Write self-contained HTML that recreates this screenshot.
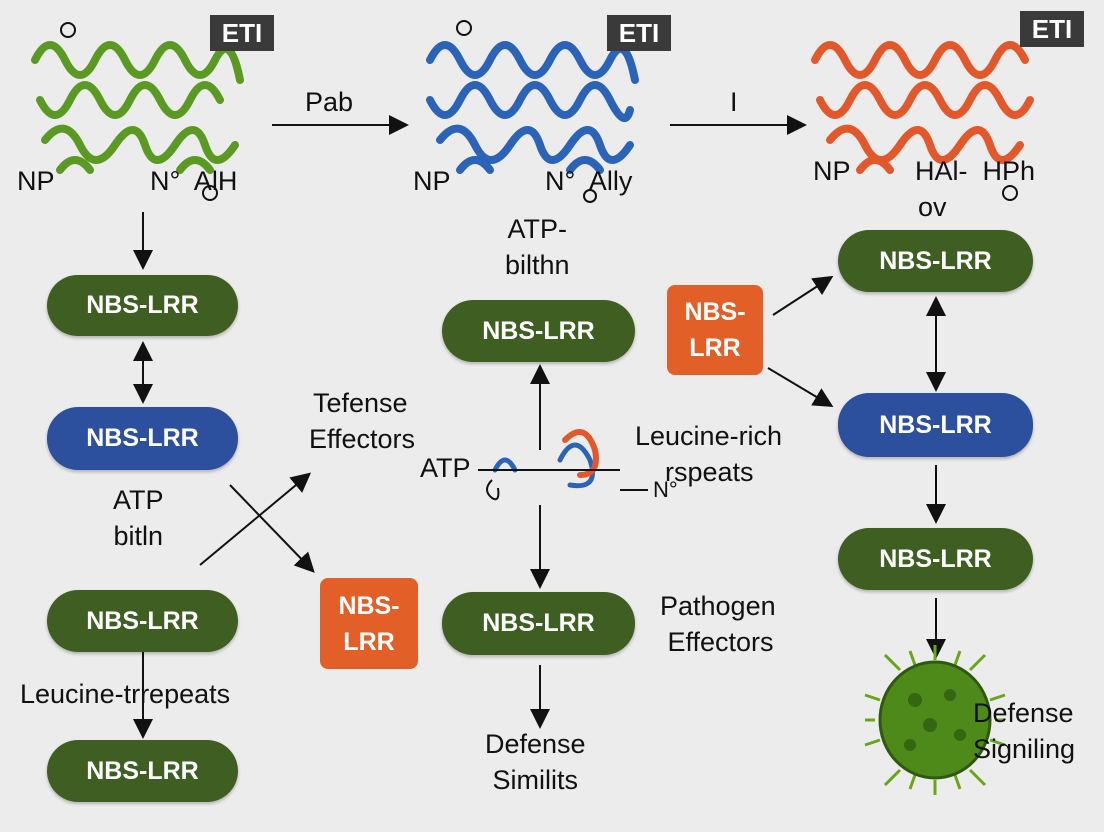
<!DOCTYPE html>
<html><head><meta charset="utf-8"><style>
html,body{margin:0;padding:0}
body{width:1104px;height:832px;background:#ececec;position:relative;overflow:hidden;font-family:"Liberation Sans",sans-serif}
.p{position:absolute;border-radius:31px;color:#fff;font-weight:bold;font-size:25px;display:flex;align-items:center;justify-content:center;box-shadow:0 2px 3px rgba(0,0,0,.25)}
.g{background:#3f5f22}.b{background:#2c4f9e}
.o{position:absolute;background:#e25f28;color:#fff;font-weight:bold;font-size:25px;border-radius:8px;display:flex;align-items:center;justify-content:center;text-align:center;line-height:36px}
.t{position:absolute;font-size:27px;color:#111;line-height:36px;white-space:nowrap}
.e{position:absolute;background:#3a3a3a;color:#fff;font-weight:bold;font-size:26px;width:64px;height:36px;display:flex;align-items:center;justify-content:center}
svg{position:absolute;left:0;top:0}
</style></head><body>
<svg width="1104" height="832">
<defs><marker id="a" markerWidth="10" markerHeight="10" refX="8" refY="5" orient="auto"><path d="M0,0 L10,5 L0,10 z" fill="#111"/></marker>
<marker id="s" markerWidth="10" markerHeight="10" refX="2" refY="5" orient="auto"><path d="M10,0 L0,5 L10,10 z" fill="#111"/></marker></defs>
<g fill="none" stroke-linecap="round" stroke-width="8">
<path d="M35,60 q15,-30 30,0 t30,0 t30,0 t30,0 t30,0 t30,0 t25,20 M40,100 q15,30 30,0 t30,0 t30,0 t30,0 t30,0 t30,0 M45,140 q20,-25 35,5 t35,0 t30,0 t30,0 t30,0 t30,0 M60,170 q15,-20 30,0 M180,170 q15,-20 30,0" stroke="#5a9a22"/>
<path d="M430,60 q15,-30 30,0 t30,0 t30,0 t30,0 t30,0 t30,0 t25,20 M430,100 q15,30 30,0 t30,0 t30,0 t30,0 t30,0 t30,0 t20,10 M440,140 q20,-25 35,5 t35,0 t30,0 t30,0 t30,0 t30,0 M460,170 q15,-20 30,0 M570,170 q15,-20 30,0" stroke="#2a63b8"/>
<path d="M815,60 q15,-30 30,0 t30,0 t30,0 t30,0 t30,0 t30,0 t30,0 M820,100 q15,30 30,0 t30,0 t30,0 t30,0 t30,0 t30,0 t30,0 M830,140 q20,-25 35,5 t35,0 t30,0 t30,0 t30,0 t30,0 M860,170 q15,-20 30,0" stroke="#e2582a"/>
<path d="M495,470 q10,-20 20,0 M560,460 q15,-30 30,0 q10,30 -20,25" stroke="#2a63b8" stroke-width="5"/>
<path d="M565,440 q20,-20 30,10 q5,25 -15,25" stroke="#e2582a" stroke-width="6"/>
</g>
<g fill="none" stroke="#111" stroke-width="2">
<circle cx="68" cy="30" r="7"/><circle cx="464" cy="28" r="7"/><circle cx="590" cy="196" r="6"/><circle cx="210" cy="193" r="7"/><circle cx="1010" cy="193" r="7"/>
<path d="M272,125 H405" marker-end="url(#a)"/>
<path d="M670,125 H803" marker-end="url(#a)"/>
<path d="M143,212 V266" marker-end="url(#a)"/>
<path d="M143,345 V400" marker-end="url(#a)" marker-start="url(#s)"/>
<path d="M143,652 V735" marker-end="url(#a)"/>
<path d="M200,565 L308,475" marker-end="url(#a)"/>
<path d="M230,485 L312,570" marker-end="url(#a)"/>
<path d="M540,450 V368" marker-end="url(#a)"/>
<path d="M540,505 V585" marker-end="url(#a)"/>
<path d="M540,665 V725" marker-end="url(#a)"/>
<path d="M478,470 H620 M620,490 h28 M492,480 q-10,10 0,18 q8,5 6,-10"/>
<path d="M773,315 L830,278" marker-end="url(#a)"/>
<path d="M768,368 L830,405" marker-end="url(#a)"/>
<path d="M936,300 V388" marker-end="url(#a)" marker-start="url(#s)"/>
<path d="M936,465 V520" marker-end="url(#a)"/>
<path d="M936,598 V655" marker-end="url(#a)"/>
</g>
<g stroke="#6aa61c" stroke-width="3" fill="none">
<path d="M935,720 m-60,0 h-10 M935,720 m60,0 h10 M900,670 l-15,-15 M970,670 l15,-15 M900,770 l-15,15 M970,770 l15,15 M935,660 v-15 M935,780 v15 M880,700 l-15,-5 M990,740 l15,5 M880,740 l-15,5 M990,700 l15,-5 M915,665 l-5,-14 M955,665 l5,-14 M915,775 l-5,14 M955,775 l5,14"/>
</g>
<ellipse cx="935" cy="720" rx="55" ry="58" fill="#4e8a1a" stroke="#2f5a0e" stroke-width="3"/>
<g fill="#356612"><circle cx="915" cy="700" r="7"/><circle cx="950" cy="695" r="6"/><circle cx="930" cy="725" r="7"/><circle cx="960" cy="735" r="6"/><circle cx="910" cy="745" r="6"/></g>
</svg>
<div class="e" style="left:210px;top:15px">ETI</div>
<div class="e" style="left:607px;top:15px">ETI</div>
<div class="e" style="left:1020px;top:11px">ETI</div>
<div class="t" style="left:17px;top:163px">NP</div>
<div class="t" style="left:150px;top:163px">N°&nbsp; AlH</div>
<div class="t" style="left:413px;top:163px">NP</div>
<div class="t" style="left:545px;top:163px">N°&nbsp; Ally</div>
<div class="t" style="left:813px;top:153px">NP</div>
<div class="t" style="left:915px;top:153px">HAl-&nbsp; HPh</div>
<div class="t" style="left:918px;top:189px">ov</div>
<div class="t" style="left:305px;top:84px">Pab</div>
<div class="t" style="left:730px;top:84px">I</div>
<div class="p g" style="left:47px;top:275px;width:191px;height:61px">NBS-LRR</div>
<div class="p b" style="left:47px;top:407px;width:191px;height:63px">NBS-LRR</div>
<div class="p g" style="left:47px;top:590px;width:191px;height:62px">NBS-LRR</div>
<div class="p g" style="left:47px;top:740px;width:191px;height:62px">NBS-LRR</div>
<div class="t" style="left:113px;top:482px;text-align:center">ATP<br>bitln</div>
<div class="t" style="left:20px;top:676px">Leucine-trrepeats</div>
<div class="t" style="left:313px;top:385px">Tefense<br><span style="margin-left:-4px">Effectors</span></div>
<div class="o" style="left:320px;top:578px;width:98px;height:91px">NBS-<br>LRR</div>
<div class="t" style="left:505px;top:211px;text-align:center">ATP-<br>bilthn</div>
<div class="p g" style="left:442px;top:300px;width:193px;height:62px">NBS-LRR</div>
<div class="t" style="left:420px;top:450px">ATP</div>
<div class="t" style="left:653px;top:472px;font-size:22px">N°</div>
<div class="t" style="left:635px;top:418px">Leucine-rich<br>&nbsp;&nbsp;&nbsp;&nbsp;rspeats</div>
<div class="p g" style="left:442px;top:592px;width:193px;height:63px">NBS-LRR</div>
<div class="t" style="left:660px;top:588px">Pathogen<br>&nbsp;Effectors</div>
<div class="t" style="left:485px;top:726px;text-align:center">Defense<br>Similits</div>
<div class="o" style="left:667px;top:285px;width:96px;height:90px">NBS-<br>LRR</div>
<div class="p g" style="left:838px;top:230px;width:195px;height:62px">NBS-LRR</div>
<div class="p b" style="left:838px;top:393px;width:195px;height:64px">NBS-LRR</div>
<div class="p g" style="left:838px;top:528px;width:195px;height:62px">NBS-LRR</div>
<div class="t" style="left:973px;top:695px">Defense<br>Signiling</div>
</body></html>
